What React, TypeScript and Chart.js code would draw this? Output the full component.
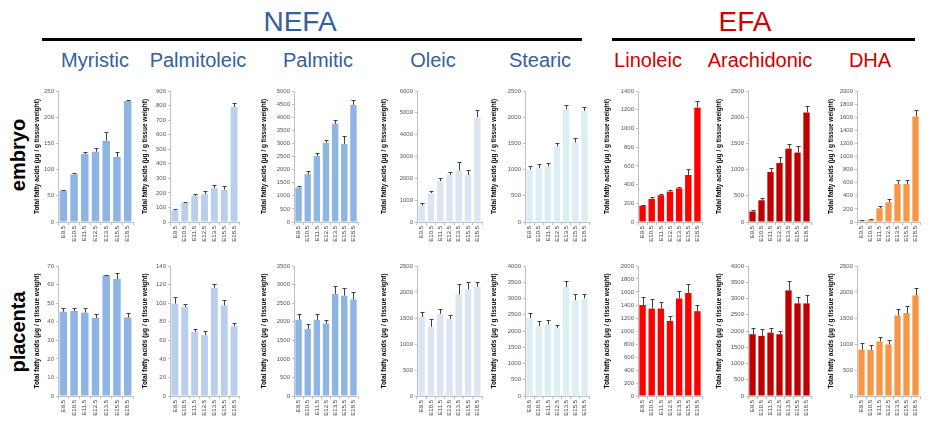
import React, { useEffect, useRef } from "react";
import { Chart, registerables } from "chart.js";

Chart.register(...registerables);
Chart.defaults.font.family = "'Liberation Sans', Arial, sans-serif";

// ---------- data ----------
const stages = ["E9.5", "E10.5", "E11.5", "E12.5", "E13.5", "E15.5", "E18.5"];
const acidNames = ["Myristic", "Palmitoleic", "Palmitic", "Oleic", "Stearic", "Linoleic", "Arachidonic", "DHA"];
const groupTitles = ["NEFA", "EFA"];
const rowTitles = ["embryo", "placenta"];
const yAxisTitle = "Total fatty acids (µg / g tissue weight)";

const embryoMyristic = [60, 91, 130, 134, 155, 124, 231];
const embryoMyristicErr = [2, 2, 3, 8, 17, 10, 2];
const embryoPalmitoleic = [80, 130, 180, 190, 232, 222, 790];
const embryoPalmitoleicErr = [8, 10, 12, 25, 25, 25, 25];
const embryoPalmitic = [1320, 1820, 2520, 3020, 3750, 2980, 4470];
const embryoPalmiticErr = [60, 130, 100, 120, 130, 300, 180];
const embryoOleic = [750, 1320, 1870, 2150, 2350, 2150, 4800];
const embryoOleicErr = [120, 120, 150, 130, 380, 250, 330];
const embryoStearic = [1000, 1030, 1060, 1440, 2150, 1520, 2120];
const embryoStearicErr = [70, 80, 60, 60, 80, 80, 80];
const embryoLinoleic = [175, 247, 286, 325, 360, 503, 1222];
const embryoLinoleicErr = [10, 25, 12, 20, 15, 60, 70];
const embryoArachidonic = [200, 415, 955, 1125, 1400, 1325, 2090];
const embryoArachidonicErr = [20, 50, 70, 120, 80, 130, 120];
const embryoDHA = [25, 35, 210, 300, 580, 580, 1610];
const embryoDHAErr = [10, 10, 30, 45, 65, 55, 100];

const placentaMyristic = [45.4, 45.8, 44.9, 42, 65, 63, 42.3];
const placentaMyristicErr = [1.8, 1.4, 2.7, 2, 0.4, 3, 2.3];
const placentaPalmitoleic = [99.5, 96, 69, 65.5, 116.5, 97.5, 75];
const placentaPalmitoleicErr = [7, 3.5, 3, 5, 4.5, 5.5, 3.5];
const placentaPalmitic = [2050, 1800, 2050, 1950, 2750, 2700, 2600];
const placentaPalmiticErr = [150, 150, 150, 100, 200, 200, 200];
const placentaOleic = [1520, 1330, 1580, 1480, 1950, 2050, 2100];
const placentaOleicErr = [100, 150, 100, 80, 200, 150, 100];
const placentaStearic = [2400, 2150, 2200, 2100, 3350, 2950, 3000];
const placentaStearicErr = [150, 150, 150, 100, 200, 200, 150];
const placentaLinoleic = [1400, 1345, 1345, 1155, 1500, 1585, 1305];
const placentaLinoleicErr = [125, 150, 100, 70, 115, 140, 90];
const placentaArachidonic = [1900, 1850, 1950, 1900, 3250, 2850, 2850];
const placentaArachidonicErr = [200, 200, 150, 100, 300, 200, 250];
const placentaDHA = [890, 890, 1050, 990, 1550, 1595, 1935];
const placentaDHAErr = [130, 95, 85, 80, 115, 135, 140];

const embryoMax = [250, 900, 5000, 6000, 2500, 1400, 2500, 2000];
const embryoStep = [50, 100, 500, 1000, 500, 200, 500, 200];
const placentaMax = [70, 140, 3500, 2500, 4000, 2000, 4000, 2500];
const placentaStep = [10, 20, 500, 500, 500, 200, 500, 500];

const embryoValues = [embryoMyristic, embryoPalmitoleic, embryoPalmitic, embryoOleic, embryoStearic, embryoLinoleic, embryoArachidonic, embryoDHA];
const embryoErrors = [embryoMyristicErr, embryoPalmitoleicErr, embryoPalmiticErr, embryoOleicErr, embryoStearicErr, embryoLinoleicErr, embryoArachidonicErr, embryoDHAErr];
const placentaValues = [placentaMyristic, placentaPalmitoleic, placentaPalmitic, placentaOleic, placentaStearic, placentaLinoleic, placentaArachidonic, placentaDHA];
const placentaErrors = [placentaMyristicErr, placentaPalmitoleicErr, placentaPalmiticErr, placentaOleicErr, placentaStearicErr, placentaLinoleicErr, placentaArachidonicErr, placentaDHAErr];

// ---------- style / layout ----------
const barColors = ["#8DB4E2", "#B9CEEA", "#8DB4E2", "#DCE6F2", "#DBEEF4", "#FF0000", "#C00000", "#F79646"];
const blueText = "#34609C";
const redText = "#D00000";
const colLeft = [33, 141, 260, 380, 490, 603, 715, 827];
const axisX = [58, 170, 294, 417, 525, 638, 748, 857];
const plotRight = [133, 239, 358, 482, 589, 702, 811, 920];
const titleCenters = [95, 198, 318, 433, 540, 648, 760, 870];

const errorBarPlugin = {
  id: "errorBars",
  afterDatasetsDraw(chart: any, _args: any, opts: any) {
    const errs: number[] = opts.errors || [];
    const meta = chart.getDatasetMeta(0);
    const ys = chart.scales.y;
    const ctx = chart.ctx;
    ctx.save();
    ctx.strokeStyle = "#404040";
    ctx.lineWidth = 1;
    meta.data.forEach((bar: any, i: number) => {
      const v = chart.data.datasets[0].data[i] as number;
      const top = Math.round(ys.getPixelForValue(v + (errs[i] || 0))) + 0.5;
      const x = Math.round(bar.x) + 0.5;
      ctx.beginPath();
      ctx.moveTo(x, bar.y);
      ctx.lineTo(x, top);
      ctx.moveTo(x - 2, top);
      ctx.lineTo(x + 2, top);
      ctx.stroke();
    });
    ctx.restore();
  },
};

type PanelProps = {
  left: number; top: number; width: number; height: number;
  yWidth: number; xHeight: number; padTop: number; padRight: number;
  values: number[]; errors: number[]; color: string; max: number; step: number;
};

function Panel(p: PanelProps) {
  const ref = useRef<HTMLCanvasElement>(null);
  useEffect(() => {
    const chart = new Chart(ref.current as HTMLCanvasElement, {
      type: "bar",
      data: {
        labels: stages,
        datasets: [{ data: p.values, backgroundColor: p.color, borderWidth: 0, barPercentage: 0.7, categoryPercentage: 1 }],
      },
      options: {
        responsive: false,
        animation: false,
        devicePixelRatio: 1,
        layout: { padding: { top: p.padTop, right: p.padRight, left: 0, bottom: 0 } },
        plugins: {
          legend: { display: false },
          tooltip: { enabled: false },
          errorBars: { errors: p.errors },
        } as any,
        scales: {
          x: {
            grid: { display: true, drawOnChartArea: false, tickLength: 3, color: "#BFBFBF" },
            border: { color: "#BFBFBF" },
            ticks: { font: { size: 6 }, color: "#404040", minRotation: 90, maxRotation: 90, autoSkip: false, padding: 1 },
            afterFit: (s: any) => { s.height = p.xHeight; s.paddingLeft = 0; s.paddingRight = 0; },
          },
          y: {
            min: 0,
            max: p.max,
            ticks: { stepSize: p.step, font: { size: 6 }, color: "#595959", padding: 2, callback: (v: any) => String(v) },
            grid: { display: true, drawOnChartArea: false, tickLength: 2, color: "#BFBFBF" },
            border: { color: "#BFBFBF" },
            title: { display: true, text: yAxisTitle, font: { size: 6.5, weight: "bold" }, color: "#000", padding: 0 },
            afterFit: (s: any) => { s.width = p.yWidth; s.paddingTop = 0; s.paddingBottom = 0; },
          },
        },
      } as any,
      plugins: [errorBarPlugin as any],
    });
    return () => chart.destroy();
  }, []);
  return (
    <canvas
      ref={ref}
      width={p.width}
      height={p.height}
      style={{ position: "absolute", left: p.left, top: p.top, width: p.width, height: p.height }}
    />
  );
}

const font = "'Liberation Sans', Arial, sans-serif";

export default function App() {
  const rows = [
    { top: 80, height: 168, padTop: 11, xHeight: 26, values: embryoValues, errors: embryoErrors, max: embryoMax, step: embryoStep },
    { top: 255, height: 168, padTop: 11, xHeight: 27, values: placentaValues, errors: placentaErrors, max: placentaMax, step: placentaStep },
  ];
  return (
    <div style={{ position: "absolute", left: 0, top: 0, width: 930, height: 423, background: "#fff", overflow: "hidden", fontFamily: font }}>
      <div style={{ position: "absolute", left: 300, top: 22, transform: "translate(-50%,-50%)", fontSize: 28, lineHeight: 1, color: blueText }}>{groupTitles[0]}</div>
      <div style={{ position: "absolute", left: 745, top: 22, transform: "translate(-50%,-50%)", fontSize: 28, lineHeight: 1, color: redText }}>{groupTitles[1]}</div>
      <div style={{ position: "absolute", left: 42, top: 38, width: 540, height: 3, background: "#000" }} />
      <div style={{ position: "absolute", left: 612, top: 38, width: 303, height: 3, background: "#000" }} />
      {acidNames.map((n, i) => (
        <div key={n} style={{ position: "absolute", left: titleCenters[i], top: 60, transform: "translate(-50%,-50%)", fontSize: 20, lineHeight: 1, whiteSpace: "nowrap", color: i < 5 ? blueText : redText }}>{n}</div>
      ))}
      {rowTitles.map((t, r) => (
        <div key={t} style={{ position: "absolute", left: 18, top: r === 0 ? 155 : 332, transform: "translate(-50%,-50%) rotate(-90deg)", fontSize: 20, fontWeight: "bold", lineHeight: 1, whiteSpace: "nowrap", color: "#000" }}>{t}</div>
      ))}
      {rows.map((row, r) =>
        acidNames.map((n, c) => (
          <Panel
            key={r + "-" + n}
            left={colLeft[c]}
            top={row.top}
            width={plotRight[c] + 5 - colLeft[c]}
            height={row.height}
            yWidth={axisX[c] - colLeft[c]}
            xHeight={row.xHeight}
            padTop={row.padTop}
            padRight={5}
            values={row.values[c]}
            errors={row.errors[c]}
            color={barColors[c]}
            max={row.max[c]}
            step={row.step[c]}
          />
        ))
      )}
    </div>
  );
}
